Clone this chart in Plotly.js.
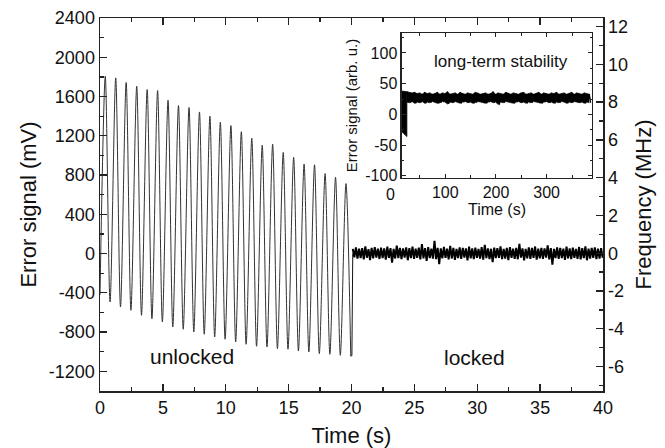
<!DOCTYPE html>
<html>
<head>
<meta charset="utf-8">
<script src="https://cdn.plot.ly/plotly-3.0.1.min.js"></script>
<style>html,body{margin:0;padding:0;background:#fff;}#chart{width:665px;height:448px;}</style>
</head>
<body>
<div id="chart"></div>
<script>
// ---- Main chart: unlocked oscillation (peaks and troughs)
const start_t = [0];
const start_v = [-420];
const peak_t = [0.42,1.25,2.08,2.92,3.75,4.58,5.41,6.24,7.08,7.91,8.74,9.57,10.41,11.24,12.07,12.90,13.73,14.57,15.40,16.23,17.06,17.90,18.73,19.56];
const peak_v = [1807,1790,1743,1705,1671,1661,1562,1508,1488,1443,1399,1338,1304,1242,1175,1103,1114,1030,980,912,905,815,778,713];
const trough_t = [0.80,1.63,2.46,3.30,4.13,4.96,5.79,6.62,7.46,8.29,9.12,9.95,10.79,11.62,12.45,13.28,14.11,14.95,15.78,16.61,17.44,18.28,19.11,19.94];
const trough_v = [-493,-544,-578,-629,-663,-697,-748,-771,-799,-822,-850,-873,-901,-924,-944,-952,-968,-975,-993,-1003,-1019,-1026,-1036,-1045];
const jump_t = [19.94,20.03,20.1];
const jump_v = [-1045,-1040,0];

// ---- Main chart: locked noise, successive maxima / minima from 20.1 s
const locked_t0 = 20.1, locked_dt = 0.125;
const locked_upper = [48,62,51,56,74,46,58,66,50,60,
  53,70,56,48,80,58,52,63,56,71,
  51,60,96,56,66,49,130,59,53,68,
  51,78,57,48,62,58,52,70,54,60,
  47,66,88,53,49,60,56,74,48,58,
  66,51,59,100,53,47,63,57,72,50,
  58,52,84,56,48,64,58,51,70,53,
  60,47,67,56,74,51,58,63,50,56];
const locked_lower = [-38,-52,-45,-58,-42,-66,-49,-41,-55,-47,
  -62,-44,-92,-50,-45,-56,-42,-68,-47,-54,
  -43,-59,-49,-74,-46,-52,-56,-108,-48,-44,
  -58,-50,-65,-45,-54,-42,-70,-49,-56,-43,
  -52,-62,-46,-55,-86,-47,-43,-57,-50,-66,
  -44,-53,-58,-42,-70,-49,-55,-44,-62,-48,
  -54,-42,-59,-114,-47,-53,-45,-64,-49,-56,
  -43,-54,-60,-46,-68,-50,-43,-57,-52,-44];

// ---- Inset: long-term stability
const chunk_t = [14,24.2,24.2,14];
const chunk_v = [38,37,-36,-28];
const inset_t0 = 24.3, inset_dt = 2.5;
const inset_upper = [37,36,35,36,34,35,33,36,34,35,
  33,34,36,33,35,34,37,33,34,35,
  33,36,34,33,35,34,33,36,35,33,
  34,35,33,34,37,33,35,34,33,36,
  34,33,35,34,33,35,36,33,34,35,
  33,34,36,33,35,34,33,35,34,36,
  33,34,35,33,34,36,33,35,34,33,
  35,34,33];
const inset_lower = [20,19,21,18,20,19,21,18,20,19,
  21,20,18,19,21,20,17,20,19,21,
  20,18,20,21,19,20,18,19,21,20,
  19,18,20,21,19,20,16,20,19,21,
  20,19,18,20,21,19,20,18,20,19,
  21,20,19,18,20,21,19,20,18,20,
  19,21,20,18,20,19,21,20,19,20,
  18,20,19];

// ---- Tick labels
const main_x_ticks = [0,5,10,15,20,25,30,35,40];
const main_y_ticks = [-1200,-800,-400,0,400,800,1200,1600,2000,2400];
const right_y_ticks = [-6,-4,-2,0,2,4,6,8,10,12];
const inset_x_ticks = [100,200,300];
const inset_y_ticks = [-100,-50,0,50,100];
const lbl = a => a.map(v => String(v));

// oscillation path through the read extrema
const osc_x = [...start_t], osc_y = [...start_v];
for (let k = 0; k < peak_t.length; k++) {
  osc_x.push(peak_t[k]); osc_y.push(peak_v[k]);
  osc_x.push(trough_t[k]); osc_y.push(trough_v[k]);
}
// noise drawn as alternating maxima/minima
const zig = (u, l) => { const r = []; for (let i = 0; i < Math.min(u.length, l.length); i++) { r.push(u[i], l[i]); } return r; };

const FONT = 'Arial, "Liberation Sans", sans-serif';
const AX = '#222';

const traces = [
  {x: osc_x, y: osc_y, type: 'scatter', mode: 'lines', line: {color: '#333', width: 1, shape: 'spline', smoothing: 0.85}, xaxis: 'x', yaxis: 'y'},
  {x: jump_t, y: jump_v, type: 'scatter', mode: 'lines', line: {color: '#111', width: 1}, xaxis: 'x', yaxis: 'y'},
  {x0: locked_t0, dx: locked_dt, y: zig(locked_upper, locked_lower), type: 'scatter', mode: 'lines', line: {color: '#000', width: 2, simplify: false}, xaxis: 'x', yaxis: 'y'},
  {x: [], y: [], type: 'scatter', mode: 'lines', xaxis: 'x', yaxis: 'y2'},
  {x: chunk_t, y: chunk_v, type: 'scatter', mode: 'lines', fill: 'toself', fillcolor: '#000', line: {color: '#000', width: 0.8}, xaxis: 'x3', yaxis: 'y3'},
  {x0: inset_t0, dx: 2 * inset_dt, y: inset_lower, type: 'scatter', mode: 'lines', line: {color: '#000', width: 0.6}, xaxis: 'x3', yaxis: 'y3'},
  {x0: inset_t0, dx: 2 * inset_dt, y: inset_upper, type: 'scatter', mode: 'lines', fill: 'tonexty', fillcolor: '#000', line: {color: '#000', width: 0.6}, xaxis: 'x3', yaxis: 'y3'},
  {x0: inset_t0, dx: inset_dt, y: zig(inset_upper, inset_lower), type: 'scatter', mode: 'lines', line: {color: '#000', width: 1.2, simplify: false}, xaxis: 'x3', yaxis: 'y3'}
];

const tickCommon = {ticks: 'inside', tickcolor: AX, showgrid: false, zeroline: false, showline: true, linecolor: AX};

const layout = {
  width: 665, height: 448,
  margin: {l: 100, r: 62, t: 18, b: 57, pad: 0},
  paper_bgcolor: '#fff', plot_bgcolor: '#fff',
  showlegend: false,
  font: {family: FONT, color: '#111', size: 18},
  xaxis: Object.assign({}, tickCommon, {
    range: [0, 40], tickvals: main_x_ticks, ticktext: lbl(main_x_ticks), ticklen: 7, tickwidth: 1.3,
    minor: {dtick: 2.5, tick0: 0, ticks: 'inside', ticklen: 4, tickwidth: 1.3, tickcolor: AX},
    linewidth: 1.5, mirror: 'ticks',
    tickfont: {size: 18, family: FONT, color: '#111'},
    title: {text: 'Time (s)', font: {size: 22, family: FONT, color: '#111'}, standoff: 12},
    domain: [0, 1], anchor: 'y'
  }),
  yaxis: Object.assign({}, tickCommon, {
    range: [-1400, 2400], tickvals: main_y_ticks, ticktext: lbl(main_y_ticks), ticklen: 7, tickwidth: 1.3,
    minor: {dtick: 200, tick0: 0, ticks: 'inside', ticklen: 4, tickwidth: 1.3, tickcolor: AX},
    linewidth: 1.5,
    tickfont: {size: 18, family: FONT, color: '#111'},
    title: {text: 'Error signal (mV)', font: {size: 22, family: FONT, color: '#111'}, standoff: 6},
    anchor: 'x'
  }),
  yaxis2: Object.assign({}, tickCommon, {
    overlaying: 'y', side: 'right', anchor: 'x',
    range: [-7.29, 12.45], tickvals: right_y_ticks, ticktext: lbl(right_y_ticks), ticklen: 7, tickwidth: 1.3,
    minor: {dtick: 1, tick0: 0, ticks: 'inside', ticklen: 4, tickwidth: 1.3, tickcolor: AX},
    linewidth: 1.5,
    tickfont: {size: 18, family: FONT, color: '#111'},
    title: {text: 'Frequency (MHz)', font: {size: 22, family: FONT, color: '#111'}, standoff: 8}
  }),
  xaxis3: Object.assign({}, tickCommon, {
    domain: [0.5998, 0.9787], anchor: 'y3',
    range: [14, 390], tickvals: inset_x_ticks, ticktext: lbl(inset_x_ticks), ticklen: 4, tickwidth: 1,
    minor: {dtick: 50, tick0: 0, ticks: 'inside', ticklen: 3, tickwidth: 1, tickcolor: AX},
    linewidth: 1.2, mirror: 'ticks',
    tickfont: {size: 16, family: FONT, color: '#111'},
    title: {text: 'Time (s)', font: {size: 16, family: FONT, color: '#111'}, standoff: 0}
  }),
  yaxis3: Object.assign({}, tickCommon, {
    domain: [0.5718, 0.959], anchor: 'x3',
    range: [-103, 132], tickvals: inset_y_ticks, ticktext: lbl(inset_y_ticks), ticklen: 4, tickwidth: 1,
    minor: {dtick: 25, tick0: 0, ticks: 'inside', ticklen: 2, tickwidth: 1, tickcolor: AX},
    linewidth: 1.2, mirror: 'ticks',
    tickfont: {size: 16, family: FONT, color: '#111'},
    title: {text: 'Error signal (arb. u.)', font: {size: 15, family: FONT, color: '#111'}, standoff: 4}
  }),
  annotations: [
    {text: 'unlocked', xref: 'paper', yref: 'paper', x: 0.1829, y: 0.0938, showarrow: false, font: {size: 21, family: FONT, color: '#111'}, xanchor: 'center', yanchor: 'middle'},
    {text: 'locked', xref: 'paper', yref: 'paper', x: 0.7455, y: 0.0885, showarrow: false, font: {size: 21, family: FONT, color: '#111'}, xanchor: 'center', yanchor: 'middle'},
    {text: 'long-term stability', xref: 'paper', yref: 'paper', x: 0.7966, y: 0.8828, showarrow: false, font: {size: 17, family: FONT, color: '#111'}, xanchor: 'center', yanchor: 'middle'},
    {text: '0', xref: 'paper', yref: 'paper', x: 0.5766, y: 0.5255, showarrow: false, font: {size: 16, family: FONT, color: '#111'}, xanchor: 'center', yanchor: 'middle'}
  ]
};

Plotly.newPlot('chart', traces, layout, {displayModeBar: false, staticPlot: true});
</script>
</body>
</html>
